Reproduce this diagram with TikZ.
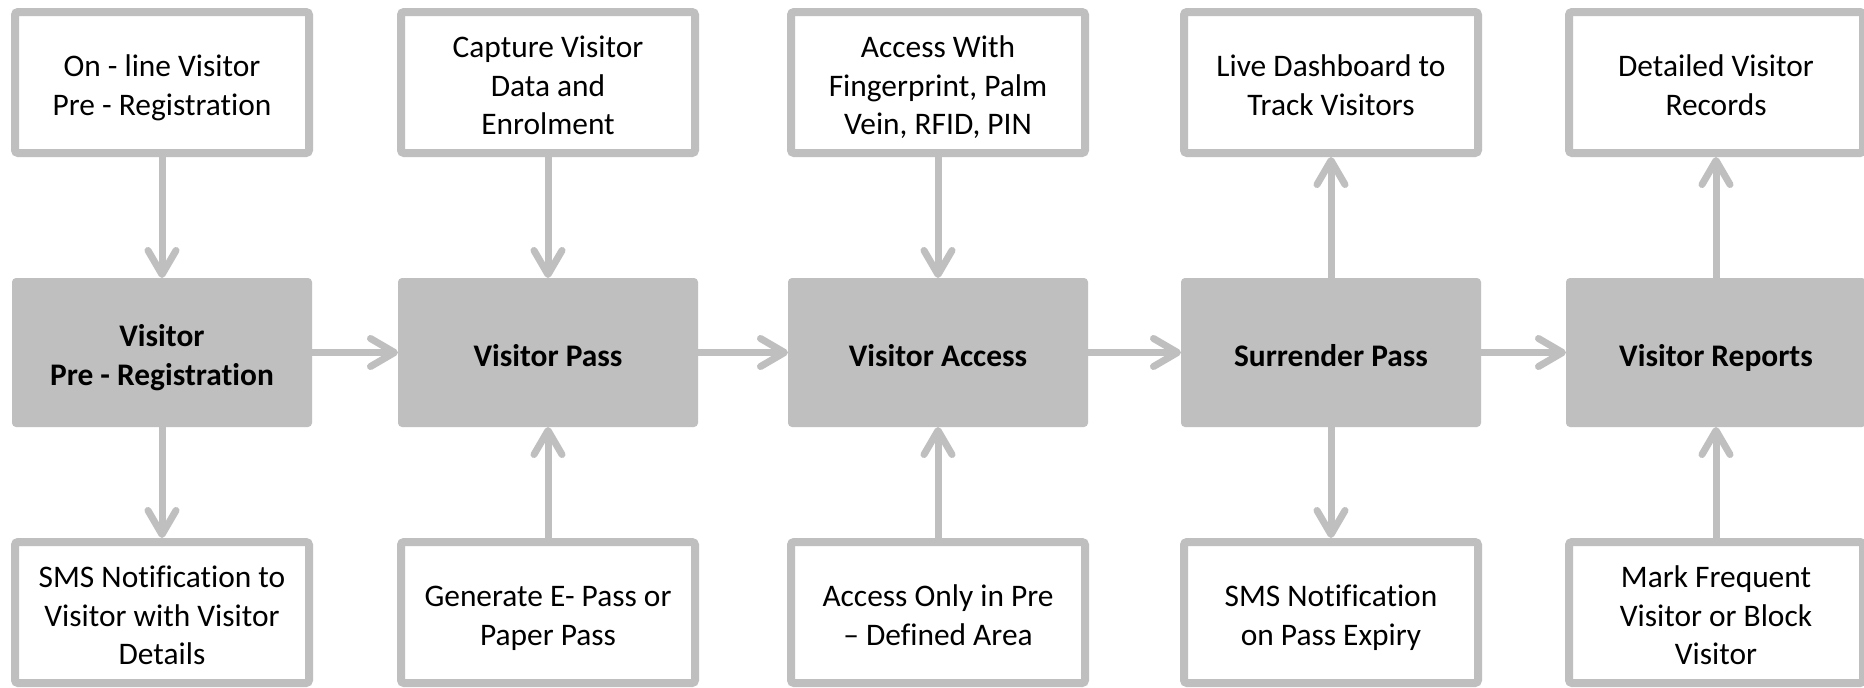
\documentclass[tikz,border=0pt]{standalone}
\usepackage{fontspec}
\setmainfont{Carlito}[Ligatures={NoCommon}]
\usetikzlibrary{arrows.meta}
\definecolor{boxgray}{HTML}{BFBFBF}
\newcommand\bt[1]{\raisebox{-3pt}[\height][\depth]{\begin{tabular}{@{}c@{}}#1\end{tabular}}}
\begin{document}
\begin{tikzpicture}[x=0.5pt,y=-0.5pt,
  outbox/.style={draw=boxgray,line width=4pt,fill=white,minimum width=147pt,minimum height=70.5pt,inner sep=0pt,outer sep=0pt,font=\fontsize{15.7}{19.3}\selectfont,rounded corners=1.5pt},
  mainbox/.style={fill=boxgray,minimum width=150pt,minimum height=74.5pt,inner sep=0pt,outer sep=0pt,font=\fontsize{15.7}{19.3}\selectfont\bfseries,rounded corners=2pt},
  conn/.style={draw=boxgray,line width=3.5pt,-{Straight Barb[length=12pt,width=14pt,round]}},
  conntobox/.style={conn,shorten >=2pt}
]
\fill[white] (0,0) rectangle (1864,687);
\useasboundingbox (0,0) rectangle (1864,687);

% column 1
\node[outbox] (t1) at (162,82.5) {\bt{On - line Visitor\\Pre - Registration}};
\node[mainbox] (m1) at (162,352.5) {\bt{Visitor\\Pre - Registration}};
\node[outbox] (b1) at (162,612.5) {\bt{SMS Notification to\\Visitor with Visitor\\Details}};
% column 2
\node[outbox] (t2) at (548,82.5) {\bt{Capture Visitor\\Data and\\Enrolment}};
\node[mainbox] (m2) at (548,352.5) {\bt{Visitor Pass}};
\node[outbox] (b2) at (548,612.5) {\bt{Generate E- Pass or\\Paper Pass}};
% column 3
\node[outbox] (t3) at (938,82.5) {\bt{Access With\\Fingerprint, Palm\\Vein, RFID, PIN}};
\node[mainbox] (m3) at (938,352.5) {\bt{Visitor Access}};
\node[outbox] (b3) at (938,612.5) {\bt{Access Only in Pre\\– Defined Area}};
% column 4
\node[outbox] (t4) at (1331,82.5) {\bt{Live Dashboard to\\Track Visitors}};
\node[mainbox] (m4) at (1331,352.5) {\bt{Surrender Pass}};
\node[outbox] (b4) at (1331,612.5) {\bt{SMS Notification\\on Pass Expiry}};
% column 5
\node[outbox] (t5) at (1716,82.5) {\bt{Detailed Visitor\\Records}};
\node[mainbox] (m5) at (1716,352.5) {\bt{Visitor Reports}};
\node[outbox] (b5) at (1716,612.5) {\bt{Mark Frequent\\Visitor or Block\\Visitor}};

% vertical connectors
\draw[conn] (t1.south) -- (m1.north);
\draw[conntobox] (m1.south) -- (b1.north);
\draw[conn] (t2.south) -- (m2.north);
\draw[conn] (b2.north) -- (m2.south);
\draw[conn] (t3.south) -- (m3.north);
\draw[conn] (b3.north) -- (m3.south);
\draw[conntobox] (m4.north) -- (t4.south);
\draw[conntobox] (m4.south) -- (b4.north);
\draw[conntobox] (m5.north) -- (t5.south);
\draw[conn] (b5.north) -- (m5.south);

% horizontal connectors
\draw[conn] (m1.east) -- (m2.west);
\draw[conn] (m2.east) -- (m3.west);
\draw[conn] (m3.east) -- (m4.west);
\draw[conn] (m4.east) -- (m5.west);
\end{tikzpicture}
\end{document}
